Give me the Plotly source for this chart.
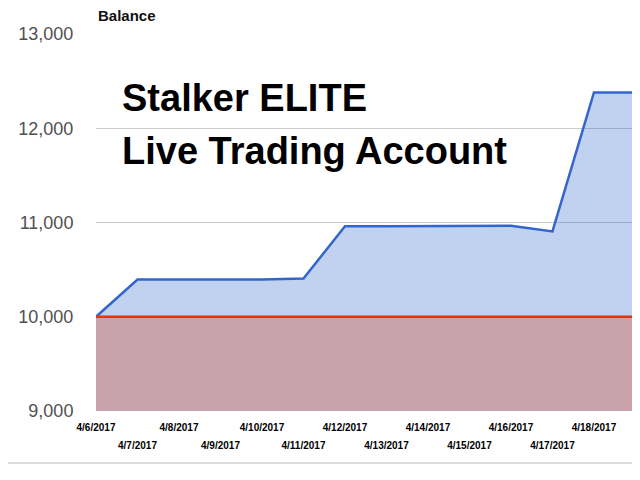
import plotly.graph_objects as go

dates = [
    "2017-04-06", "2017-04-07", "2017-04-08", "2017-04-09", "2017-04-10",
    "2017-04-11", "2017-04-12", "2017-04-13", "2017-04-14", "2017-04-15",
    "2017-04-16", "2017-04-17", "2017-04-18", "2017-04-19", "2017-04-20",
]
balance = [
    10000, 10395, 10395, 10395, 10395,
    10405, 10960, 10960, 10960, 10960,
    10965, 10905, 12380, 12380, 12360,
]
deposit = [10000] * len(dates)

# date labels alternate between two rows
row1_dates = ["2017-04-06", "2017-04-08", "2017-04-10", "2017-04-12",
              "2017-04-14", "2017-04-16", "2017-04-18"]
row1_labels = ["4/6/2017", "4/8/2017", "4/10/2017", "4/12/2017",
               "4/14/2017", "4/16/2017", "4/18/2017"]
row2_dates = ["2017-04-07", "2017-04-09", "2017-04-11", "2017-04-13",
              "2017-04-15", "2017-04-17"]
row2_labels = ["4/7/2017", "4/9/2017", "4/11/2017", "4/13/2017",
               "4/15/2017", "4/17/2017"]
y_ticks = [9000, 10000, 11000, 12000, 13000]

fig = go.Figure()
fig.add_trace(go.Scatter(
    x=dates, y=balance, mode="lines", fill="tozeroy",
    line=dict(color="#3366cc", width=2.5),
    fillcolor="rgba(51,102,204,0.3)", name="Balance",
))
fig.add_trace(go.Scatter(
    x=dates, y=deposit, mode="lines", fill="tozeroy",
    line=dict(color="#dc3912", width=2.5),
    fillcolor="rgba(220,57,18,0.3)", name="Deposit",
))
# invisible copy so the second label row has an axis to hang on
fig.add_trace(go.Scatter(
    x=dates, y=deposit, mode="lines", xaxis="x2",
    line=dict(width=0), opacity=0, hoverinfo="skip",
))

tickfont = dict(family="Liberation Sans Narrow, Arial Narrow, sans-serif",
                size=10, color="#000", weight="bold")

# page body adds an 8px offset, so the figure is sized to fit inside it
fig.update_layout(
    width=624, height=456,
    margin=dict(l=88, r=0, t=26, b=53),
    plot_bgcolor="white", paper_bgcolor="white",
    showlegend=False,
    font=dict(family="Arial, Liberation Sans, sans-serif"),
    xaxis=dict(
        type="date",
        range=["2017-04-06", "2017-04-18 22:00"],
        tickvals=row1_dates, ticktext=row1_labels,
        tickangle=0,
        showgrid=False, zeroline=False, showline=False,
        ticks="outside", ticklen=7, tickcolor="rgba(0,0,0,0)",
        tickfont=tickfont,
    ),
    xaxis2=dict(
        type="date", overlaying="x", matches="x", anchor="y", side="bottom",
        tickvals=row2_dates, ticktext=row2_labels,
        tickangle=0,
        showgrid=False, zeroline=False, showline=False,
        ticks="outside", ticklen=25, tickcolor="rgba(0,0,0,0)",
        tickfont=tickfont,
    ),
    yaxis=dict(
        range=[9000, 13000],
        tickvals=y_ticks, tickformat=",d",
        showgrid=True, gridcolor="#cccccc", gridwidth=1,
        zeroline=False, showline=False,
        ticks="outside", ticklen=18, tickcolor="rgba(0,0,0,0)",
        tickfont=dict(size=18, color="#505050"),
    ),
)

fig.add_annotation(
    xref="paper", yref="paper", x=0, y=1.0, yshift=19,
    xanchor="left", yanchor="middle", showarrow=False,
    text="<b>Balance</b>", font=dict(size=15, color="#111"),
)
fig.add_annotation(
    xref="paper", yref="paper", x=0.045, y=0.830,
    xanchor="left", yanchor="middle", showarrow=False,
    text="<b>Stalker ELITE</b>", font=dict(size=38, color="black"),
)
fig.add_annotation(
    xref="paper", yref="paper", x=0.045, y=0.690,
    xanchor="left", yanchor="middle", showarrow=False,
    text="<b>Live Trading Account</b>", font=dict(size=38, color="black"),
)
fig.add_shape(
    type="line", xref="paper", yref="paper",
    x0=-0.2, x1=1.0, y0=-0.1379, y1=-0.1379,
    line=dict(color="#dddddd", width=2),
)

fig.write_html("out.html")
